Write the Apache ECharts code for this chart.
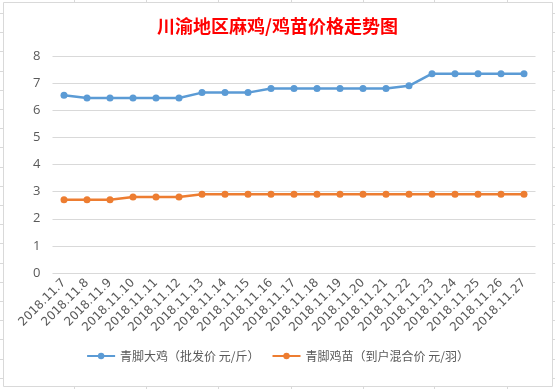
<!DOCTYPE html>
<html>
<head>
<meta charset="utf-8">
<script src="https://cdn.jsdelivr.net/npm/echarts@6/dist/echarts.min.js"></script>
<style>html,body{margin:0;padding:0;background:#fff;}#c{width:555px;height:389px;}</style>
</head>
<body>
<div id="c"></div>
<script>
var categories = ['2018.11.7','2018.11.8','2018.11.9','2018.11.10','2018.11.11','2018.11.12','2018.11.13','2018.11.14','2018.11.15','2018.11.16','2018.11.17','2018.11.18','2018.11.19','2018.11.20','2018.11.21','2018.11.22','2018.11.23','2018.11.24','2018.11.25','2018.11.26','2018.11.27'];
var bigChicken = [6.55,6.45,6.45,6.45,6.45,6.45,6.65,6.65,6.65,6.8,6.8,6.8,6.8,6.8,6.8,6.9,7.35,7.35,7.35,7.35,7.35];
var chicks = [2.7,2.7,2.7,2.8,2.8,2.8,2.9,2.9,2.9,2.9,2.9,2.9,2.9,2.9,2.9,2.9,2.9,2.9,2.9,2.9,2.9];
var seriesNames = ['青脚大鸡（批发价 元/斤）','青脚鸡苗（到户混合价 元/羽）'];
var titleText = '川渝地区麻鸡/鸡苗价格走势图';

var chart = echarts.init(document.getElementById('c'), null, {renderer:'canvas'});
var font = '"Microsoft YaHei","Noto Sans CJK SC",sans-serif';
var numFont = '"Open Sans","Noto Sans",sans-serif';
var gridCol = '#d9d9d9';
var g = [];
g.push({type:'rect', shape:{x:3.5,y:2.5,width:549,height:384}, style:{fill:null, stroke:gridCol, lineWidth:1}, z:-1});
[74,146,218,291,363,434,507].forEach(function(x){
  g.push({type:'line', shape:{x1:x+0.5,y1:0,x2:x+0.5,y2:2}, style:{stroke:gridCol}});
  g.push({type:'line', shape:{x1:x+0.5,y1:387,x2:x+0.5,y2:389}, style:{stroke:gridCol}});
});
for (var y=13; y<389; y+=19.2) {
  var yy = Math.round(y)+0.5;
  g.push({type:'line', shape:{x1:0,y1:yy,x2:3,y2:yy}, style:{stroke:gridCol}});
  g.push({type:'line', shape:{x1:553,y1:yy,x2:555,y2:yy}, style:{stroke:gridCol}});
}

chart.setOption({
  animation:false,
  backgroundColor:'#fff',
  graphic:g,
  title:{text:titleText, left:'center', top:12, textStyle:{color:'#ff0000', fontSize:18, fontWeight:'bold', fontFamily:font}},
  legend:{
    bottom:22, left:'center', itemGap:12, itemWidth:28, itemHeight:8,
    textStyle:{color:'#595959', fontSize:12, fontFamily:font},
    data:seriesNames
  },
  grid:{left:52.5, right:19.5, top:56, bottom:116},
  xAxis:{
    type:'category', data:categories, boundaryGap:true,
    axisLine:{show:false}, axisTick:{show:false},
    axisLabel:{rotate:45, color:'#595959', fontSize:12, fontFamily:'"DejaVu Sans",sans-serif', interval:0, margin:8}
  },
  yAxis:{
    type:'value', min:0, max:8, interval:1,
    axisLine:{show:false}, axisTick:{show:false},
    axisLabel:{color:'#595959', fontSize:13, fontFamily:numFont, margin:12},
    splitLine:{lineStyle:{color:gridCol, width:1}}
  },
  series:[
    {name:seriesNames[0], type:'line', data:bigChicken, symbol:'circle', symbolSize:7,
     lineStyle:{color:'#5b9bd5', width:2.5}, itemStyle:{color:'#5b9bd5'}},
    {name:seriesNames[1], type:'line', data:chicks, symbol:'circle', symbolSize:7,
     lineStyle:{color:'#ed7d31', width:2.5}, itemStyle:{color:'#ed7d31'}}
  ]
});
</script>
</body>
</html>
